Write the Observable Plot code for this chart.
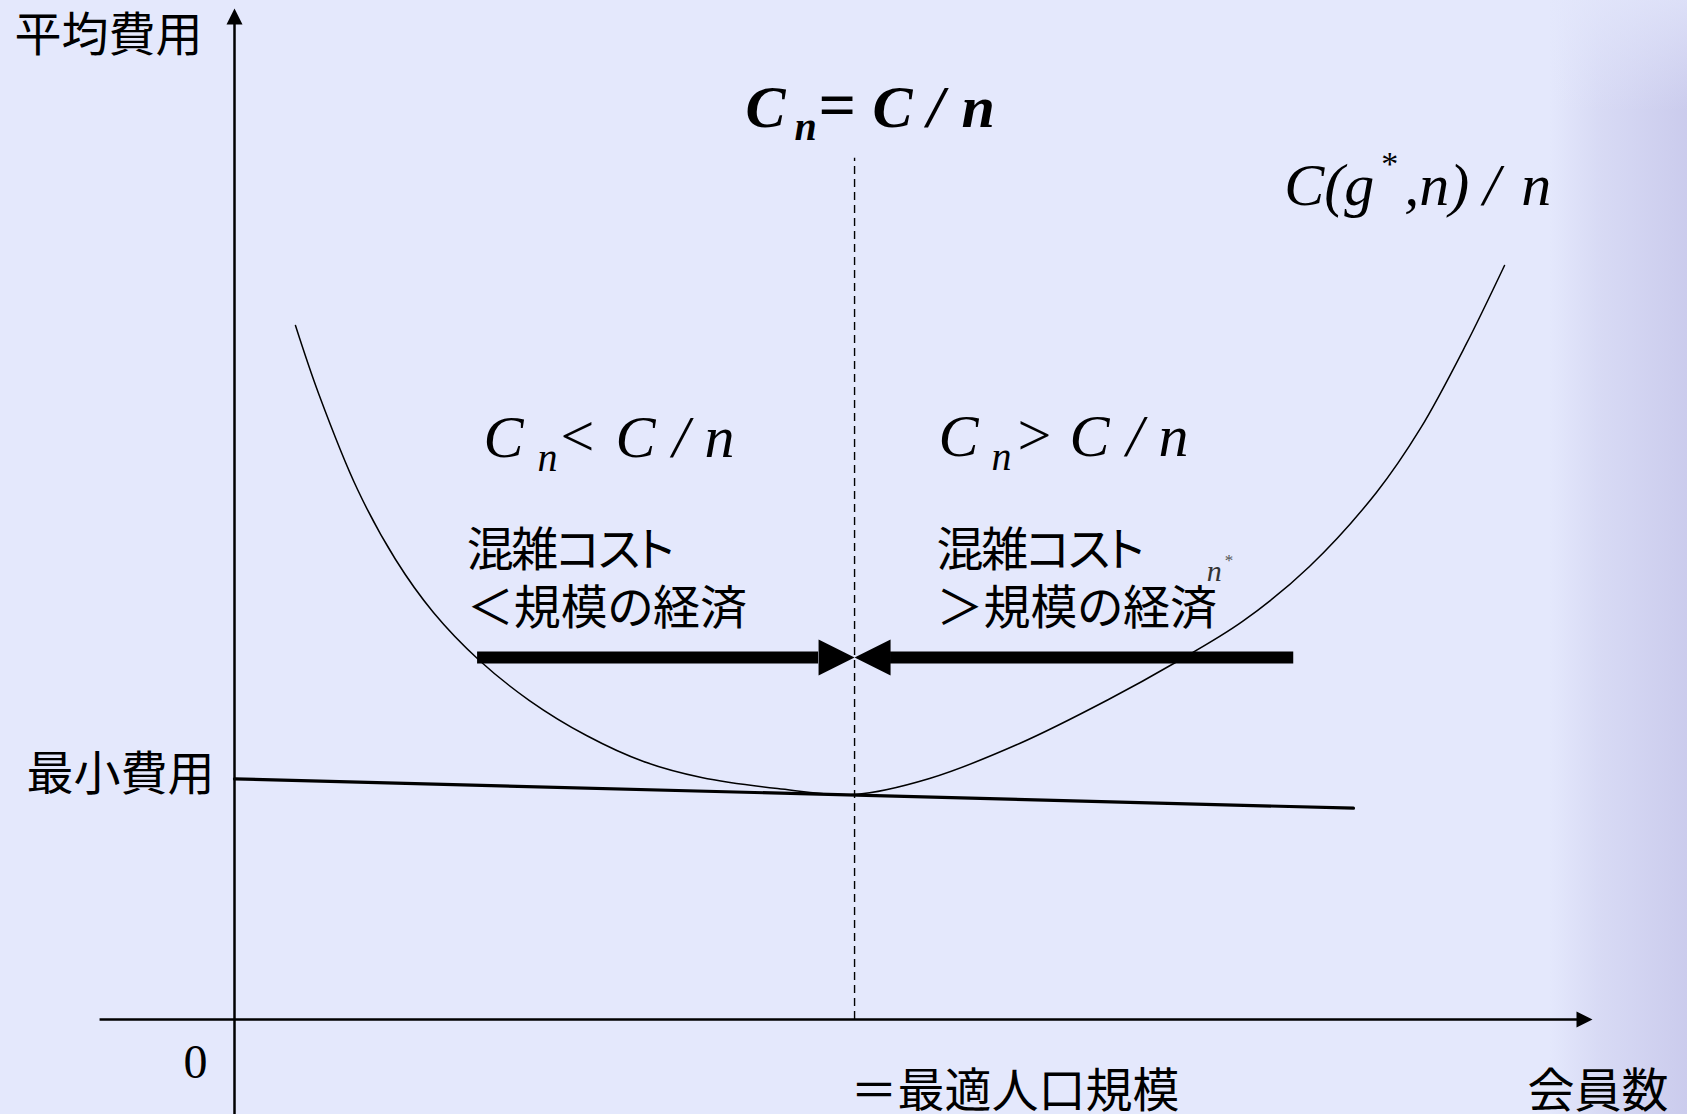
<!DOCTYPE html>
<html>
<head>
<meta charset="utf-8">
<script src="https://cdn.jsdelivr.net/npm/d3@7"></script>
<script src="https://cdn.jsdelivr.net/npm/@observablehq/plot@0.6"></script>
<style>
html, body { margin: 0; padding: 0; width: 1687px; height: 1114px; overflow: hidden; background: #e4e8fc; }
#deco { position: absolute; left: 1550px; top: 0; width: 137px; height: 1114px;
  background:
    linear-gradient(to bottom, rgba(228,232,252,0.7) 0%, rgba(228,232,252,0) 10%, rgba(228,232,252,0) 100%),
    linear-gradient(to right, rgba(228,232,252,0) 0%, rgba(198,198,234,0.40) 35%, rgba(182,180,224,0.55) 100%); }
#chart { position: absolute; left: 0; top: 0; }
</style>
</head>
<body>
<div id="deco"></div>
<div id="chart"></div>
<script>
// ---- data (x: 会員数 n, y: 平均費用) ----
const curveN    = [4.49, 6.19, 9.06, 11.86, 14.65, 18.04, 21.72, 25.92, 30.12, 34.39, 39.99, 45.66, 51.18, 57.81, 64.36, 69.29, 74.23, 79.16, 84.09, 87.33, 90.65, 93.52];
const curveCost = [68.64, 61.92, 52.42, 45.50, 40.26, 35.51, 31.55, 28.09, 25.52, 23.94, 22.85, 22.26, 23.84, 27.30, 31.65, 35.31, 39.37, 44.81, 52.13, 58.46, 66.67, 74.58];
const minLineN    = [0, 82.4];
const minLineCost = [23.8, 20.9];
const nStar = 45.66;
const dashTop = 85.2;
const axisMinX = -9.9, axisMaxX = 100;
const axisMinY = -9.4, axisMaxY = 100;
const arrowLevel = 35.8;
const arrowStarts = [17.9, 78.0];

const yTitle = "平均費用";
const xTitle = "会員数";
const minCostLabel = "最小費用";
const originLabel = "0";
const nStarLabel = "＝最適人口規模";
const regionLabels = ["混雑コスト\n＜規模の経済", "混雑コスト\n＞規模の経済"];
const regionLabelX = [17.1, 51.7];
const regionLabelY = [43.8, 43.8];
const regionFormulas = ["C_n<C/n", "C_n>C/n"];
const regionFormulaX = [18.34, 51.84];
const regionFormulaY = [55.6, 55.7];
const topFormula = "C_n=C/n";
const topFormulaX = 37.63, topFormulaY = 88.3;
const curveLabel = "C(g*,n)/n";
const curveLabelX = 77.3, curveLabelY = 80.6;
const nStarMark = "n*";
const nStarMarkX = 71.6, nStarMarkY = 43.4;

// ---- derived tables ----
const curve = curveN.map((n, i) => ({n, c: curveCost[i]}));
const minLine = minLineN.map((n, i) => ({n, c: minLineCost[i]}));
const regions = regionLabels.map((t, i) => ({t, x: regionLabelX[i], y: regionLabelY[i]}));
const formulas = regionFormulas.map((t, i) => ({t, x: regionFormulaX[i], y: regionFormulaY[i]}))
  .concat([{t: curveLabel, x: curveLabelX, y: curveLabelY}, {t: nStarMark, x: nStarMarkX, y: nStarMarkY}]);

// ---- arrowhead symbols (tip at origin) ----
function head(dir) {
  return {
    draw(ctx, size) {
      const r = Math.sqrt(size / Math.PI), h = r / 2;
      const pts = dir === "right" ? [[0,0],[-r,-h],[-r,h]]
               : dir === "left" ? [[0,0],[r,-h],[r,h]]
               : [[0,0],[-h,r],[h,r]]; // up
      ctx.moveTo(pts[0][0], pts[0][1]);
      ctx.lineTo(pts[1][0], pts[1][1]);
      ctx.lineTo(pts[2][0], pts[2][1]);
      ctx.closePath();
    }
  };
}
const headLen = 2.65; // in n units, equals the big head length

const serif = "'Liberation Serif', 'Times New Roman', serif";
const jp = "'Noto Sans CJK JP', sans-serif";

const plot = Plot.plot({
  width: 1687,
  height: 1114,
  margin: 0,
  x: {domain: [0, 100], range: [234, 1592]},
  y: {domain: [0, 100], range: [1019, 8]},
  axis: null,
  style: {background: "transparent", overflow: "visible"},
  marks: [
    // axes
    Plot.ruleX([0], {y1: axisMinY, y2: axisMaxY - 1, stroke: "black", strokeWidth: 2.5}),
    Plot.ruleY([0], {x1: axisMinX, x2: axisMaxX - 1, stroke: "black", strokeWidth: 2.5}),
    Plot.dot([{x: 0, y: axisMaxY}], {x: "x", y: "y", r: 16, symbol: head("up"), fill: "black", stroke: "none"}),
    Plot.dot([{x: axisMaxX, y: 0}], {x: "x", y: "y", r: 16, symbol: head("right"), fill: "black", stroke: "none"}),
    // optimal size dashed line
    Plot.ruleX([nStar], {y1: 0, y2: dashTop, stroke: "black", strokeWidth: 1.4, strokeDasharray: "8,5"}),
    // minimum cost line
    Plot.line(minLine, {x: "n", y: "c", stroke: "black", strokeWidth: 3.2}),
    // average cost curve
    Plot.line(curve, {x: "n", y: "c", curve: "catmull-rom", stroke: "black", strokeWidth: 1.5}),
    // thick arrows toward n*
    Plot.ruleY(arrowStarts.map(s => ({s, e: s < nStar ? nStar - headLen : nStar + headLen})),
      {y: () => arrowLevel, x1: "s", x2: "e", stroke: "black", strokeWidth: 12}),
    Plot.dot([{x: nStar, y: arrowLevel}], {x: "x", y: "y", r: 36, symbol: head("right"), fill: "black", stroke: "none"}),
    Plot.dot([{x: nStar, y: arrowLevel}], {x: "x", y: "y", r: 36, symbol: head("left"), fill: "black", stroke: "none"}),
    // axis labels
    Plot.text([yTitle], {x: () => 0, y: () => axisMaxY, text: d => d, textAnchor: "end", dx: -32, dy: 27,
      fontFamily: jp, fontSize: 47, fill: "black"}),
    Plot.text([minCostLabel], {x: () => 0, y: () => minLineCost[0], text: d => d, textAnchor: "end", dx: -20, dy: -4,
      fontFamily: jp, fontSize: 47, fill: "black"}),
    Plot.text([originLabel], {x: () => 0, y: () => 0, text: d => d, textAnchor: "end", dx: -27, dy: 43,
      fontFamily: serif, fontSize: 48, fill: "black"}),
    Plot.text([nStarLabel], {x: () => nStar, y: () => 0, text: d => d, textAnchor: "start", dx: -4, dy: 72,
      fontFamily: jp, fontSize: 47, fill: "black"}),
    Plot.text([xTitle], {x: () => axisMaxX, y: () => 0, text: d => d, textAnchor: "end", dx: 76, dy: 72,
      fontFamily: jp, fontSize: 47, fill: "black"}),
    // region explanations
    Plot.text(regions, {x: "x", y: "y", text: "t", textAnchor: "start", lineHeight: 1.24,
      fontFamily: jp, fontSize: 47, fill: "black"}),
    // formulas
    Plot.text([{t: topFormula, x: topFormulaX, y: topFormulaY}], {x: "x", y: "y", text: "t", textAnchor: "start",
      lineAnchor: "bottom", fontFamily: serif, fontSize: 60, fontStyle: "italic", fontWeight: "bold", fill: "black"}),
    Plot.text(formulas, {x: "x", y: "y", text: "t", textAnchor: "start",
      lineAnchor: "bottom", fontFamily: serif, fontSize: 60, fontStyle: "italic", fill: "black"})
  ]
});

// typeset formulas: [glyphs, dx, dy, size, upright, color]
const layouts = {
  "C_n=C/n": [["C",0,0,60],["n",49,13,40],["=",73,0,66,1],["C",127,0,60],["/",182,0,60],["n",216,0,60]],
  "C_n<C/n": [["C",0,0,60],["n",54,14,40],["<",77,-1,60,1],["C",132,0,60],["/",189,0,60],["n",221,0,60]],
  "C_n>C/n": [["C",0,0,60],["n",53,14,40],[">",79,-1,60,1],["C",131,0,60],["/",188,0,60],["n",220,0,60]],
  "C(g*,n)/n": [["C(g",0,0,60],["*",97,-30,34,1],[",n)",120,0,60],["/",199,0,60],["n",237,0,60]],
  "n*": [["n",0,0,30,0,"#333"],["*",18,-15,17,1,"#555"]]
};
const NS = "http://www.w3.org/2000/svg";
plot.querySelectorAll("text").forEach(t => {
  const L = layouts[t.textContent];
  if (!L) return;
  const bx = t.hasAttribute("x") ? parseFloat(t.getAttribute("x")) || 0 : 0;
  const yAttr = t.getAttribute("y");
  const by = yAttr && !/em$/.test(yAttr) ? parseFloat(yAttr) || 0 : 0;
  t.textContent = "";
  t.removeAttribute("dy");
  for (const [s, dx, dy, size, up, color] of L) {
    const ts = document.createElementNS(NS, "tspan");
    ts.setAttribute("x", bx + dx);
    ts.setAttribute("y", by + dy);
    ts.setAttribute("font-size", size);
    if (up) ts.setAttribute("font-style", "normal");
    if (color) ts.setAttribute("fill", color);
    ts.textContent = s;
    t.appendChild(ts);
  }
});
plot.querySelectorAll("text").forEach(t => t.style.fontFeatureSettings = '"palt"');
// the katakana line is set a little tighter, as in the slide
plot.querySelectorAll("tspan").forEach(ts => {
  if (ts.textContent === "混雑コスト") ts.setAttribute("letter-spacing", "-2.4");
});
document.getElementById("chart").appendChild(plot);
</script>
</body>
</html>
